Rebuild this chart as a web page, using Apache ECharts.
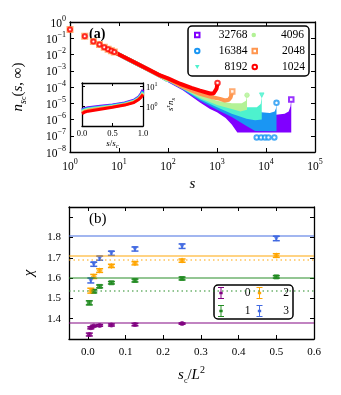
<!DOCTYPE html>
<html>
<head>
<meta charset="utf-8">
<script src="https://cdn.jsdelivr.net/npm/echarts@6/dist/echarts.min.js"></script>
<style>
  html, body { margin: 0; background: #fff; }
  #chart { width: 341px; height: 395px; }
</style>
</head>
<body>
<div id="chart"></div>
<script>
const FONT = 'Liberation Serif';
const sizes = ['32768', '16384', '8192', '4096', '2048', '1024'];
const rainbow = ['#8000ff', '#1a96f3', '#4df2ce', '#b3f296', '#ff964f', '#ff0000'];

// ---- panel (a), values read as log10 n ----
// first discrete points (all sizes overlap here)
const firstS = [1, 2, 3, 4, 5, 6, 7, 8];
const firstLogN = [-0.46, -0.87, -1.2, -1.38, -1.56, -1.67, -1.77, -1.85];

// clean power-law part shared by the four largest sizes
const headS = [8, 10, 20, 40, 69, 100];
const headLogN = [-1.85, -2.0, -2.47, -2.94, -3.31, -3.58];

const redS = [8, 10, 20, 40, 69, 100, 176, 300, 450, 720, 850, 920, 980, 1024];
const redLogN = [-1.85, -2.0, -2.46, -2.92, -3.29, -3.47, -3.8, -4.05, -4.22, -4.4, -4.4, -4.32, -4.1, -3.78];
const orangeS = [8, 10, 20, 40, 69, 100, 176, 450, 800, 1150, 1450, 1750, 1900, 2048];
const orangeLogN = [-1.85, -2.0, -2.46, -2.93, -3.3, -3.5, -3.91, -4.42, -4.63, -4.73, -4.83, -4.78, -4.63, -4.28];

// noisy tails: upper / lower edge, [s, log10 n]
const bandUp32768 = [[100, -3.55], [200, -4.05], [450, -4.55], [1000, -5.0], [2000, -5.35], [4000, -5.55], [8000, -5.65], [16000, -5.7], [24000, -5.65], [29000, -5.5], [31500, -5.2], [32768, -4.8]];
const bandLo32768 = [[100, -3.7], [200, -4.2], [450, -4.95], [720, -5.35], [1000, -5.55], [1500, -5.9], [2000, -6.3], [2600, -6.8], [32768, -6.8]];
const bandUp16384 = [[100, -3.55], [200, -4.02], [450, -4.52], [1000, -4.95], [2000, -5.25], [4000, -5.45], [8000, -5.55], [12000, -5.6], [15000, -5.5], [16000, -5.3], [16384, -5.0]];
const bandLo16384 = [[100, -3.68], [200, -4.17], [450, -4.85], [1000, -5.4], [2000, -5.85], [4000, -6.4], [6000, -6.7], [16384, -6.72]];
const bandUp8192 = [[100, -3.55], [200, -4.0], [450, -4.5], [1000, -4.92], [2000, -5.15], [4000, -5.25], [6500, -5.25], [7800, -5.05], [8192, -4.55]];
const bandLo8192 = [[100, -3.66], [200, -4.13], [450, -4.75], [1000, -5.25], [2000, -5.65], [4000, -5.95], [6000, -6.05], [8192, -6.0]];
const bandUp4096 = [[100, -3.53], [200, -3.98], [450, -4.48], [1000, -4.85], [2000, -5.0], [3200, -5.0], [3900, -4.85], [4096, -4.55]];
const bandLo4096 = [[100, -3.64], [200, -4.1], [450, -4.68], [1000, -5.1], [2000, -5.35], [3000, -5.5], [4096, -5.4]];

// spike tops at s = s_c
const peakS = [32768, 16384, 8192, 4096, 2048, 1024];
const peakLogN = [-4.77, -4.97, -4.5, -4.5, -4.28, -3.75];
// isolated 16384 points under the floor
const floorS = [6460, 7940, 9550, 11200, 14800];
const floorLogN = [-7.1, -7.1, -7.1, -7.1, -7.1];

// inset: s/s_c vs s^tau n
const insetX = [0, 0.05, 0.1, 0.3, 0.5, 0.7, 0.85, 0.93, 0.97, 1.0];
const inset32768 = [0.72, 0.82, 0.88, 1.05, 1.22, 1.55, 2.1, 3.0, 4.5, 6.8];
const inset16384 = [0.66, 0.76, 0.82, 0.98, 1.15, 1.45, 1.95, 2.8, 4.0, 5.8];
const inset8192 = [0.60, 0.70, 0.76, 0.92, 1.08, 1.37, 1.85, 2.65, 3.7, 5.2];
const inset4096 = [0.55, 0.65, 0.71, 0.87, 1.03, 1.30, 1.75, 2.5, 3.4, 4.8];
const inset2048 = [0.50, 0.60, 0.66, 0.81, 0.98, 1.25, 1.68, 2.4, 3.2, 4.4];
const inset1024 = [0.45, 0.55, 0.60, 0.75, 0.93, 1.2, 1.6, 2.3, 3.0, 4.0];

// ---- panel (b) ----
const bNames = ['0', '1', '2', '3'];
const bColors = ['#800080', '#228b22', '#ffa500', '#4169e1'];
const x0 = [0.0039, 0.0078, 0.0156, 0.03125, 0.0625, 0.125, 0.25];
const chi0 = [1.322, 1.355, 1.364, 1.367, 1.369, 1.371, 1.376];
const err0 = [0.007, 0.005, 0.004, 0.004, 0.005, 0.006, 0.003];
const x1 = [0.0039, 0.0156, 0.03125, 0.0625, 0.125, 0.25, 0.5];
const chi1 = [1.478, 1.535, 1.559, 1.577, 1.588, 1.598, 1.606];
const err1 = [0.01, 0.008, 0.007, 0.006, 0.007, 0.007, 0.006];
const x2 = [0.0078, 0.0156, 0.03125, 0.0625, 0.125, 0.25, 0.5];
const chi2 = [1.538, 1.608, 1.637, 1.66, 1.673, 1.686, 1.711];
const err2 = [0.012, 0.01, 0.009, 0.008, 0.008, 0.008, 0.009];
const x3 = [0.0078, 0.0156, 0.03125, 0.0625, 0.125, 0.25, 0.5];
const chi3 = [1.588, 1.668, 1.698, 1.722, 1.743, 1.757, 1.795];
const err3 = [0.012, 0.01, 0.01, 0.01, 0.01, 0.011, 0.011];
const fitChi = [1.376, 1.605, 1.71, 1.811];
const dottedChi = [null, 1.545, 1.693, null];

const downTri = 'path://M0,0L10,0L5,9Z';
const errIcon = 'path://M0,0H10V1.6H0Z M4.2,0H5.8V20H4.2Z M0,18.4H10V20H0Z M2.2,7.8H7.8V12.2H2.2Z';

const chart = echarts.init(document.getElementById('chart'));

const toPts = (xs, ls) => xs.map((s, i) => [s, Math.pow(10, ls[i])]);
const pairPts = arr => arr.map(p => [p[0], Math.pow(10, p[1])]);

const powRich = {
  b: { fontFamily: FONT, fontSize: 11.5, color: '#000', lineHeight: 15, verticalAlign: 'bottom' },
  e: { fontFamily: FONT, fontSize: 8, color: '#000', lineHeight: 15, verticalAlign: 'top' },
  bs: { fontFamily: FONT, fontSize: 8.5, color: '#000', lineHeight: 11, verticalAlign: 'bottom' },
  es: { fontFamily: FONT, fontSize: 6, color: '#000', lineHeight: 11, verticalAlign: 'top' }
};
function powLabel(v) {
  const l = Math.log10(v);
  const e = Math.round(l);
  if (Math.abs(l - e) > 0.01) return '';
  return '{b|10}{e|' + (e < 0 ? '\u2212' + (-e) : e) + '}';
}
function powLabelSmall(v) {
  const l = Math.log10(v);
  const e = Math.round(l);
  if (Math.abs(l - e) > 0.01) return '';
  return '{bs|10}{es|' + (e < 0 ? '\u2212' + (-e) : e) + '}';
}

const axLine = { onZero: false, lineStyle: { color: '#000', width: 1.3 } };
const tick = { inside: true, length: 4, lineStyle: { color: '#000', width: 1 } };
const smallTick = { inside: true, length: 3, lineStyle: { color: '#000' } };
const noLabel = { show: false };

function bandSeries(name, color, up, lo) {
  const upP = pairPts(up), loP = pairPts(lo);
  return {
    type: 'custom', name: name, xAxisIndex: 0, yAxisIndex: 0,
    itemStyle: { color: color },
    data: upP,
    renderItem: function (params, api) {
      if (params.dataIndex !== 0) return;
      const pts = upP.map(p => api.coord(p)).concat(loP.slice().reverse().map(p => api.coord(p)));
      return { type: 'polygon', shape: { points: pts }, style: { fill: color } };
    }
  };
}
function lineSeries(name, color, data, idx) {
  return {
    type: 'line', name: name, xAxisIndex: idx, yAxisIndex: idx, data: data,
    showSymbol: false, symbol: 'none', color: color,
    lineStyle: { color: color, width: idx === 0 ? 4 : 3 }, z: idx === 4 ? 12 : 2
  };
}

const series = [];
const bands = [[bandUp32768, bandLo32768], [bandUp16384, bandLo16384], [bandUp8192, bandLo8192], [bandUp4096, bandLo4096]];
bands.forEach((b, i) => {
  series.push(bandSeries(sizes[i], rainbow[i], b[0], b[1]));
  series.push(lineSeries(sizes[i], rainbow[i], toPts(headS, headLogN), 0));
});
series.push(lineSeries('2048', rainbow[4], toPts(orangeS, orangeLogN), 0));
series.push(lineSeries('1024', rainbow[5], toPts(redS, redLogN), 0));

const peakSymbols = ['emptyRect', 'emptyCircle', downTri, 'circle', 'emptyRect', 'emptyCircle'];
peakS.forEach((s, i) => {
  series.push({
    type: 'scatter', name: sizes[i], xAxisIndex: 0, yAxisIndex: 0,
    data: [[s, Math.pow(10, peakLogN[i])]], symbol: peakSymbols[i], symbolSize: 4.5,
    itemStyle: { color: rainbow[i], borderColor: rainbow[i], borderWidth: 1 }
  });
});
series.push({
  type: 'scatter', name: '16384', xAxisIndex: 0, yAxisIndex: 0,
  data: toPts(floorS, floorLogN), symbol: 'emptyCircle', symbolSize: 4.5,
  itemStyle: { color: rainbow[1], borderColor: rainbow[1], borderWidth: 1.2 }
});
series.push({
  type: 'scatter', name: '2048', xAxisIndex: 0, yAxisIndex: 0,
  data: toPts(firstS, firstLogN), symbol: 'emptyRect', symbolSize: 5,
  itemStyle: { color: rainbow[4], borderColor: rainbow[4], borderWidth: 1.2 }
});
series.push({
  type: 'scatter', name: '1024', xAxisIndex: 0, yAxisIndex: 0,
  data: toPts(firstS, firstLogN), symbol: 'emptyCircle', symbolSize: 4,
  itemStyle: { color: rainbow[5], borderColor: rainbow[5], borderWidth: 1.2 }
});

// inset
[inset32768, inset16384, inset8192, inset4096, inset2048, inset1024].forEach((ys, i) => {
  series.push(lineSeries('in' + sizes[i], rainbow[i], insetX.map((x, j) => [x, ys[j]]), 4));
});

// panel (b)
const bx = [x0, x1, x2, x3], bchi = [chi0, chi1, chi2, chi3], berr = [err0, err1, err2, err3];
const bSymbols = ['circle', 'rect', 'diamond', downTri];
const bSizes = [5, 5, 6, 6];
bNames.forEach((nm, i) => {
  const marks = [{ yAxis: fitChi[i], lineStyle: { color: bColors[i], width: 1.5, type: 'solid', opacity: 0.65 } }];
  if (dottedChi[i] !== null) marks.push({ yAxis: dottedChi[i], lineStyle: { color: bColors[i], width: 1.5, type: [1.5, 3], opacity: 0.65 } });
  series.push({
    type: 'custom', name: nm, xAxisIndex: 2, yAxisIndex: 2,
    itemStyle: { color: bColors[i] },
    data: bx[i].map((x, j) => [x, bchi[i][j], berr[i][j]]),
    renderItem: function (params, api) {
      const x = api.value(0), y = api.value(1), e = api.value(2);
      const top = api.coord([x, y + e]), bot = api.coord([x, y - e]);
      const w = 3.5, st = { stroke: bColors[i], lineWidth: 1.5 };
      return {
        type: 'group', children: [
          { type: 'line', shape: { x1: top[0], y1: top[1], x2: bot[0], y2: bot[1] }, style: st },
          { type: 'line', shape: { x1: top[0] - w, y1: top[1], x2: top[0] + w, y2: top[1] }, style: st },
          { type: 'line', shape: { x1: bot[0] - w, y1: bot[1], x2: bot[0] + w, y2: bot[1] }, style: st }
        ]
      };
    },
    markLine: { silent: true, symbol: 'none', label: { show: false }, data: marks }
  });
  series.push({
    type: 'scatter', name: nm, xAxisIndex: 2, yAxisIndex: 2,
    data: bx[i].map((x, j) => [x, bchi[i][j]]),
    symbol: bSymbols[i], symbolSize: bSizes[i], itemStyle: { color: bColors[i] }, z: 3
  });
});

const rich = {
  i: { fontFamily: FONT, fontStyle: 'italic', fontSize: 15, color: '#000', lineHeight: 20, verticalAlign: 'middle' },
  n: { fontFamily: FONT, fontSize: 15, color: '#000', lineHeight: 20, verticalAlign: 'middle' },
  sub: { fontFamily: FONT, fontStyle: 'italic', fontSize: 10, color: '#000', lineHeight: 20, verticalAlign: 'bottom' },
  subc: { fontFamily: FONT, fontSize: 8, color: '#000', lineHeight: 18, verticalAlign: 'bottom' },
  sup: { fontFamily: FONT, fontSize: 10, color: '#000', lineHeight: 20, verticalAlign: 'top' },
  is: { fontFamily: FONT, fontStyle: 'italic', fontSize: 9, color: '#000', lineHeight: 12, verticalAlign: 'middle' },
  ss: { fontFamily: FONT, fontStyle: 'italic', fontSize: 6.5, color: '#000', lineHeight: 12, verticalAlign: 'bottom' },
  ps: { fontFamily: FONT, fontStyle: 'italic', fontSize: 6.5, color: '#000', lineHeight: 12, verticalAlign: 'top' }
};

const legendRich = {
  r: { fontFamily: FONT, fontSize: 11.5, color: '#000', width: 43, align: 'right', lineHeight: 11.7 },
  d: { fontFamily: FONT, fontSize: 11.5, color: '#000', width: 20, align: 'right', lineHeight: 12 }
};

const option = {
  backgroundColor: '#fff',
  animation: false,
  textStyle: { fontFamily: FONT },
  grid: [
    { left: 70, top: 22, width: 245, height: 130 },
    { left: 69, top: 207, width: 245, height: 132 },
    { left: 82, top: 83, width: 61, height: 43, show: true, backgroundColor: '#fff', borderWidth: 0, z: 10 }
  ],
  xAxis: [
    { type: 'log', gridIndex: 0, min: 1, max: 1e5, logBase: 10, interval: 1,
      axisLine: axLine, axisTick: tick, splitLine: { show: false },
      axisLabel: { formatter: powLabel, rich: powRich, margin: 6 },
      name: '{i|s}', nameLocation: 'middle', nameGap: 22, nameTextStyle: { rich: rich } },
    { type: 'log', gridIndex: 0, min: 1, max: 1e5, logBase: 10, interval: 1, position: 'top',
      axisLine: axLine, axisTick: tick, axisLabel: noLabel, splitLine: { show: false } },
    { type: 'value', gridIndex: 1, min: -0.05, max: 0.6, splitNumber: 6,
      axisLine: axLine, axisTick: tick, splitLine: { show: false },
      axisLabel: { fontFamily: FONT, fontSize: 11, color: '#000', showMinLabel: false,
        formatter: v => (Math.abs(v * 10 - Math.round(v * 10)) > 1e-6 ? '' : v.toFixed(1)) },
      name: '{i|s}{subc|c}{n|/}{i|L}{sup|2}', nameLocation: 'middle', nameGap: 26, nameTextStyle: { rich: rich } },
    { type: 'value', gridIndex: 1, min: -0.05, max: 0.6, splitNumber: 6, position: 'top',
      axisLine: axLine, axisTick: tick, axisLabel: noLabel, splitLine: { show: false } },
    { type: 'value', gridIndex: 2, min: 0, max: 1, interval: 0.5, z: 11,
      axisLine: axLine, axisTick: smallTick, splitLine: { show: false },
      axisLabel: { fontFamily: FONT, fontSize: 8.5, color: '#000', margin: 3, formatter: v => v.toFixed(1) },
      name: '{is|s}{n|/}{is|s}{ss|c}', nameLocation: 'middle', nameGap: 12,
      nameTextStyle: { rich: Object.assign({}, rich, { n: { fontFamily: FONT, fontSize: 9, color: '#000', lineHeight: 12, verticalAlign: 'middle' } }) } },
    { type: 'value', gridIndex: 2, min: 0, max: 1, interval: 0.5, position: 'top', z: 11,
      axisLine: axLine, axisTick: smallTick, axisLabel: noLabel, splitLine: { show: false } }
  ],
  yAxis: [
    { type: 'log', gridIndex: 0, min: 1e-8, max: 1, logBase: 10, interval: 1,
      axisLine: axLine, axisTick: tick, splitLine: { show: false },
      axisLabel: { formatter: powLabel, rich: powRich, margin: 4 },
      name: '{i|n}{sub|s}{subc|c}{n|(}{i|s}{n|, \u221e)}', nameLocation: 'middle', nameGap: 42, nameTextStyle: { rich: rich } },
    { type: 'log', gridIndex: 0, min: 1e-8, max: 1, logBase: 10, interval: 1, position: 'right',
      axisLine: axLine, axisTick: tick, axisLabel: noLabel, splitLine: { show: false } },
    { type: 'value', gridIndex: 1, min: 1.3, max: 1.95, interval: 0.1,
      axisLine: axLine, axisTick: tick, splitLine: { show: false },
      axisLabel: { fontFamily: FONT, fontSize: 11, color: '#000', margin: 8,
        formatter: v => (v < 1.35 || v > 1.85 ? '' : v.toFixed(1)) },
      name: '{i|\u03c7}', nameLocation: 'middle', nameGap: 30, nameTextStyle: { rich: rich } },
    { type: 'value', gridIndex: 1, min: 1.3, max: 1.95, interval: 0.1, position: 'right',
      axisLine: axLine, axisTick: tick, axisLabel: noLabel, splitLine: { show: false } },
    { type: 'log', gridIndex: 2, min: 0.11, max: 15, logBase: 10, position: 'right', z: 11,
      axisLine: axLine, axisTick: smallTick, splitLine: { show: false },
      axisLabel: { formatter: powLabelSmall, rich: powRich, margin: 3, showMinLabel: false, showMaxLabel: false },
      name: '{is|s}{ps|\u03c4}{is|n}{ss|s}', nameLocation: 'middle', nameGap: 22, nameRotate: 90,
      nameTextStyle: { rich: rich } },
    { type: 'log', gridIndex: 2, min: 0.11, max: 15, logBase: 10, position: 'left', z: 11,
      axisLine: axLine, axisTick: smallTick, axisLabel: noLabel, splitLine: { show: false } }
  ],
  legend: [
    {
      left: 188, top: 26, width: 116, orient: 'horizontal', selectedMode: false,
      padding: [3, 4, 3, 6], itemGap: 4, itemWidth: 4.5, itemHeight: 4.5,
      borderColor: '#000', borderWidth: 1.5, borderRadius: 4, backgroundColor: '#fff',
      formatter: name => '{r|' + name + '}',
      textStyle: { fontFamily: FONT, fontSize: 11.5, color: '#000', rich: legendRich },
      data: [
        { name: '32768', icon: 'emptyRect' }, { name: '4096', icon: 'circle' },
        { name: '16384', icon: 'emptyCircle' }, { name: '2048', icon: 'emptyRect' },
        { name: '8192', icon: downTri }, { name: '1024', icon: 'emptyCircle' }
      ]
    },
    {
      left: 214, top: 285, width: 84, orient: 'horizontal', selectedMode: false,
      padding: [2, 4], itemGap: 6, itemWidth: 9, itemHeight: 12,
      borderColor: '#000', borderWidth: 1.5, borderRadius: 4, backgroundColor: '#fff',
      formatter: name => '{d|' + name + '}',
      textStyle: { fontFamily: FONT, fontSize: 11.5, color: '#000', rich: legendRich },
      data: [
        { name: '0', icon: errIcon }, { name: '2', icon: errIcon },
        { name: '1', icon: errIcon }, { name: '3', icon: errIcon }
      ]
    }
  ],
  graphic: [
    { type: 'text', left: 89, top: 27, style: { text: '(a)', font: 'bold 14px "Liberation Serif"', fill: '#000' } },
    { type: 'text', left: 89, top: 212, style: { text: '(b)', font: '15px "Liberation Serif"', fill: '#000' } }
  ],
  series: series
};

chart.setOption(option);
</script>
</body>
</html>
